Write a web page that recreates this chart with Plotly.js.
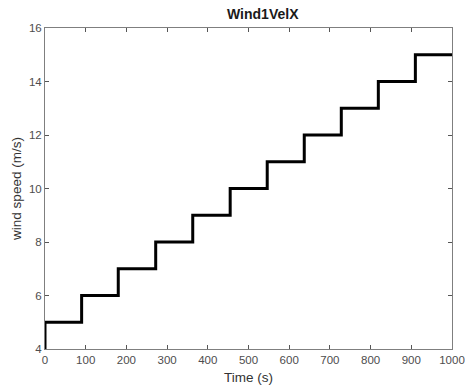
<!DOCTYPE html>
<html><head><meta charset="utf-8">
<script src="https://cdn.plot.ly/plotly-3.0.1.min.js"></script>
<style>html,body{margin:0;padding:0;background:#fff;}#chart{width:465px;height:392px;}</style>
</head><body><div id="chart"></div>
<script>
const times = [0, 0, 90, 180, 272, 363, 455, 546, 637, 728, 819, 910, 1000];
const speeds = [4, 5, 6, 7, 8, 9, 10, 11, 12, 13, 14, 15, 15];
const xTicks = [0, 100, 200, 300, 400, 500, 600, 700, 800, 900, 1000];
const yTicks = [4, 6, 8, 10, 12, 14, 16];

const FONT = 'Liberation Sans, Arial, sans-serif';
const axisCommon = {
  showline: true, linecolor: '#7f7f7f', linewidth: 1, mirror: 'ticks',
  ticks: 'inside', ticklen: 4, tickcolor: '#555', tickwidth: 1,
  showgrid: false, zeroline: false,
  tickfont: {family: FONT, size: 11.5, color: '#4d4d4d'}
};
Plotly.newPlot('chart', [{
  x: times, y: speeds, type: 'scatter', mode: 'lines',
  line: {color: '#000', width: 3, shape: 'hv'}
}], {
  width: 465, height: 392,
  margin: {l: 45, r: 13, t: 28, b: 43},
  paper_bgcolor: '#fff', plot_bgcolor: '#fff',
  showlegend: false,
  title: {text: '<b>Wind1VelX</b>', x: 0.535, xref: 'paper', xanchor: 'center', y: 0.963, yanchor: 'middle',
          font: {family: FONT, size: 14, color: '#1a1a1a'}},
  xaxis: Object.assign({}, axisCommon, {range: [0, 1000], tickvals: xTicks, ticktext: xTicks.map(String),
    title: {text: 'Time (s)', standoff: 7, font: {family: FONT, size: 13.5, color: '#333'}}}),
  yaxis: Object.assign({}, axisCommon, {range: [4, 16], tickvals: yTicks, ticktext: yTicks.map(String),
    title: {text: 'wind speed (m/s)', standoff: 4, font: {family: FONT, size: 13.5, color: '#333'}}})
}, {staticPlot: true});
</script></body></html>
